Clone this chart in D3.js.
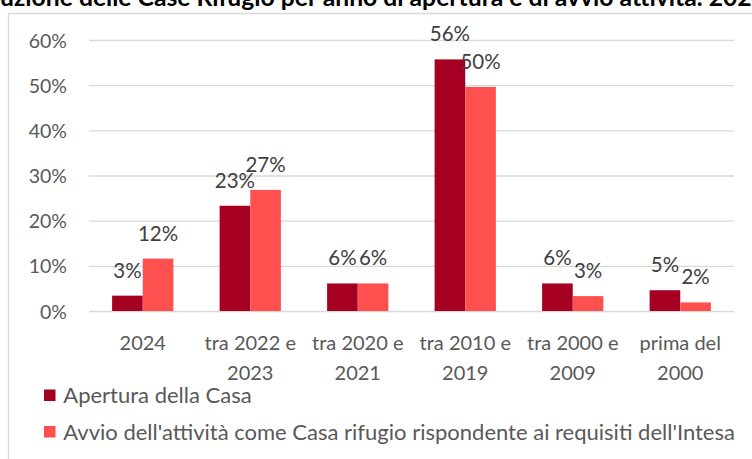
<!DOCTYPE html>
<html><head><meta charset="utf-8">
<script src="https://cdn.jsdelivr.net/npm/d3@7"></script>
<style>html,body{margin:0;padding:0;background:#fff;overflow:hidden}</style>
</head><body>
<svg id="chart" width="752" height="459"></svg>
<script>
// Categories (each entry is the wrapped label lines)
const categories = [["2024"], ["tra 2022 e", "2023"], ["tra 2020 e", "2021"], ["tra 2010 e", "2019"], ["tra 2000 e", "2009"], ["prima del", "2000"]];
const seriesNames = ["Apertura della Casa", "Avvio dell'attività come Casa rifugio rispondente ai requisiti dell'Intesa"];
const apertura = [0.034, 0.233, 0.061, 0.557, 0.061, 0.046];
const avvio = [0.116, 0.268, 0.061, 0.496, 0.033, 0.019];
const yTicks = [0, 0.1, 0.2, 0.3, 0.4, 0.5, 0.6];
const titleText = "Distribuzione delle Case Rifugio per anno di apertura e di avvio attività. 2024";
const colors = ["#A50021", "#FF5050"];

const FONT = "Lato, 'Open Sans', sans-serif";
const TXT = "#595959";
const svg = d3.select("#chart");

// Title: sized so that "uzione … 202" spans the frame width, the rest runs off both sides
function textWidth(str, size) {
  const t = svg.append("text").attr("font-family", FONT).attr("font-weight", 700)
    .attr("font-size", size).text(str);
  const w = t.node().getComputedTextLength();
  t.remove();
  return w;
}
const visiblePart = titleText.slice(7, titleText.length - 1);
const titleSize = 20 * 752 / textWidth(visiblePart, 20);
svg.append("text")
  .attr("x", -textWidth("Distrib", titleSize))
  .attr("y", 6)
  .attr("font-family", FONT).attr("font-weight", 700).attr("font-size", titleSize)
  .attr("fill", "#000").text(titleText);

// Chart frame
svg.append("path").attr("d", "M8.5,459 V13.5 H760")
  .attr("fill", "none").attr("stroke", "#D9D9D9").attr("stroke-width", 1.3);

const plotL = 89, plotR = 734, plotT = 40, plotB = 311;
const series = [apertura, avvio];

const x0 = d3.scaleBand().domain(d3.range(categories.length)).range([plotL, plotR])
  .paddingInner(0.43).paddingOuter(0.215);
const x1 = d3.scaleBand().domain([0, 1]).range([0, x0.bandwidth()]);
const y = d3.scaleLinear().domain([0, 0.6]).range([plotB, plotT]);
const pct = d3.format(".0%");

// Gridlines and value axis
const yAxis = svg.append("g").attr("transform", `translate(${plotL},0)`)
  .call(d3.axisLeft(y).tickValues(yTicks).tickFormat(pct).tickSize(-(plotR - plotL)).tickPadding(22));
yAxis.select(".domain").remove();
yAxis.selectAll(".tick line").attr("stroke", "#D9D9D9").attr("stroke-width", 1.3);
yAxis.selectAll(".tick text").attr("font-family", FONT).attr("font-size", 19.5)
  .attr("fill", TXT).attr("dy", "0.36em");

// Bars
series.forEach((vals, s) => {
  svg.append("g").selectAll("rect").data(vals).join("rect")
    .attr("x", (d, i) => x0(i) + x1(s))
    .attr("y", d => y(d))
    .attr("width", x1.bandwidth())
    .attr("height", d => y(0) - y(d))
    .attr("fill", colors[s]);
});

// Value labels
series.forEach((vals, s) => {
  svg.append("g").selectAll("text").data(vals).join("text")
    .attr("x", (d, i) => x0(i) + x1(s) + x1.bandwidth() / 2)
    .attr("y", d => y(d) - 18)
    .attr("text-anchor", "middle")
    .attr("font-family", FONT).attr("font-size", 20.5).attr("fill", "#404040")
    .text(d => pct(d));
});

// Category labels
const cat = svg.append("g").selectAll("text").data(categories).join("text")
  .attr("text-anchor", "middle")
  .attr("font-family", FONT).attr("font-size", 20).attr("fill", TXT);
cat.each(function (lines, i) {
  const t = d3.select(this);
  lines.forEach((ln, k) => {
    t.append("tspan").attr("x", x0(i) + x0.bandwidth() / 2).attr("y", 350 + k * 29.5).text(ln);
  });
});

// Legend
const legendY = [389.5, 426];
seriesNames.forEach((name, s) => {
  svg.append("rect").attr("x", 44).attr("y", legendY[s]).attr("width", 11.5).attr("height", 11.5)
    .attr("fill", colors[s]);
  svg.append("text").attr("x", 63.3).attr("y", legendY[s] + 13.8)
    .attr("font-family", FONT).attr("font-size", 22).attr("fill", TXT).text(name);
});
</script>
</body></html>
